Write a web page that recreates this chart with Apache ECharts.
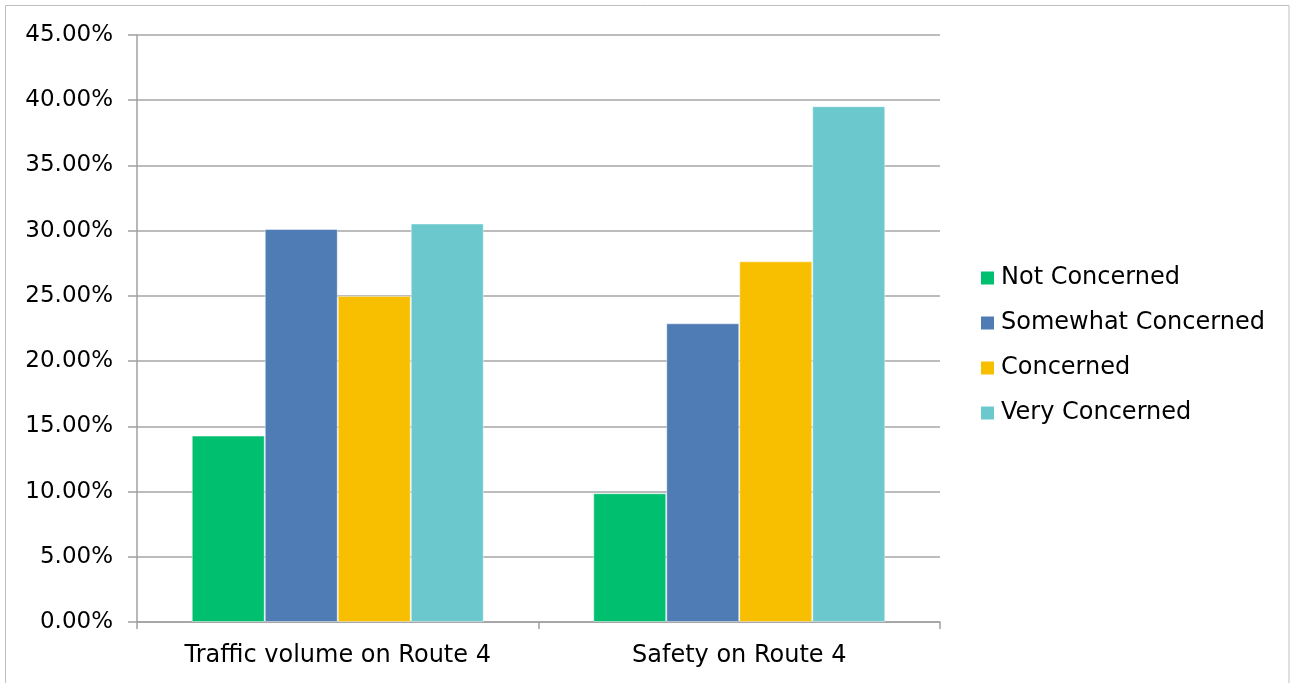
<!DOCTYPE html>
<html>
<head>
<meta charset="utf-8">
<script src="https://cdn.jsdelivr.net/npm/echarts@6/dist/echarts.min.js"></script>
<style>
html,body{margin:0;padding:0;background:#fff;}
#c{width:1291px;height:683px;}
</style>
</head>
<body>
<div id="c"></div>
<script>
const categories = ['Traffic volume on Route 4', 'Safety on Route 4'];
const seriesNames = ['Not Concerned', 'Somewhat Concerned', 'Concerned', 'Very Concerned'];
const notConcerned = [14.29, 9.87];
const somewhatConcerned = [30.13, 22.90];
const concerned = [25.00, 27.65];
const veryConcerned = [30.55, 39.54];
const colors = ['#00BF6F', '#4F7CB4', '#F8BE00', '#6BC8CC'];

const values = [notConcerned, somewhatConcerned, concerned, veryConcerned];
const font = 'DejaVu Sans';

const chart = echarts.init(document.getElementById('c'), null, {renderer: 'canvas'});
chart.setOption({
  animation: false,
  backgroundColor: '#fff',
  textStyle: {fontFamily: font},
  graphic: [{
    type: 'rect',
    shape: {x: 5.5, y: 5.5, width: 1283.5, height: 700},
    style: {fill: 'none', stroke: '#BFBFBF', lineWidth: 1},
    silent: true, z: -1
  }],
  grid: {left: 137, top: 35, right: 351, bottom: 61, containLabel: false},
  legend: {
    orient: 'vertical',
    left: 976,
    top: 261,
    itemWidth: 13,
    itemHeight: 13,
    itemGap: 21,
    icon: 'rect',
    data: seriesNames,
    textStyle: {fontFamily: font, fontSize: 24, color: '#000', lineHeight: 24, padding: [0, 0, 0, 2]},
    itemStyle: {borderWidth: 0}
  },
  xAxis: {
    type: 'category',
    data: categories,
    axisLine: {lineStyle: {color: '#A0A0A0', width: 1.5}},
    axisTick: {show: true, length: 7, alignWithLabel: false, lineStyle: {color: '#A0A0A0', width: 1.5}},
    axisLabel: {fontFamily: font, fontSize: 24, color: '#000', margin: 22}
  },
  yAxis: {
    type: 'value',
    min: 0,
    max: 45,
    interval: 5,
    axisLine: {show: true, lineStyle: {color: '#A0A0A0', width: 1.5}},
    axisTick: {show: true, length: 9, lineStyle: {color: '#A0A0A0', width: 1.5}},
    splitLine: {lineStyle: {color: '#A6A6A6', width: 1.5}},
    axisLabel: {fontFamily: font, fontSize: 23, color: '#000', margin: 24,
      formatter: v => v.toFixed(2) + '%'}
  },
  series: seriesNames.map((n, i) => ({
    name: n,
    type: 'bar',
    data: values[i],
    barWidth: 73,
    barGap: '0%',
    itemStyle: {color: colors[i], borderColor: 'rgba(255,255,255,0.45)', borderWidth: 1}
  }))
});
</script>
</body>
</html>
